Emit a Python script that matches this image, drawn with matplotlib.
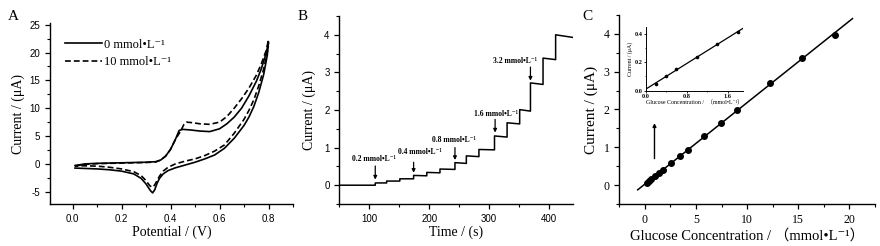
import numpy as np
import matplotlib.pyplot as plt
from matplotlib.ticker import MultipleLocator

plt.rcParams["axes.unicode_minus"] = False

# -------------------------------
# Data
# -------------------------------
# A: cyclic voltammograms (forward and reverse branches)
solid_fwd_x = [0.01, 0.05, 0.10, 0.20, 0.30, 0.34, 0.36, 0.38, 0.40, 0.42, 0.435, 0.45,
               0.48, 0.52, 0.56, 0.60, 0.63, 0.66, 0.69, 0.72, 0.75, 0.77, 0.79, 0.80]
solid_fwd_y = [-0.3, 0.0, 0.1, 0.2, 0.3, 0.4, 0.7, 1.4, 2.6, 4.4, 6.0, 6.2,
               6.1, 5.9, 5.8, 6.3, 7.2, 8.4, 10.0, 12.2, 14.8, 17.0, 19.8, 21.8]
solid_rev_x = [0.80, 0.795, 0.78, 0.76, 0.74, 0.72, 0.70, 0.66, 0.62, 0.58, 0.54, 0.50,
               0.46, 0.42, 0.39, 0.37, 0.355, 0.345, 0.335, 0.327, 0.318, 0.30, 0.28,
               0.25, 0.20, 0.15, 0.10, 0.01]
solid_rev_y = [21.8, 19.5, 16.0, 12.8, 10.3, 8.4, 6.9, 4.6, 2.8, 1.6, 0.9, 0.3,
               -0.2, -0.7, -1.2, -1.8, -2.6, -3.5, -4.7, -5.2, -4.8, -3.6, -2.6,
               -1.8, -1.3, -1.05, -0.9, -0.75]
dash_fwd_x = [0.01, 0.05, 0.10, 0.20, 0.30, 0.34, 0.36, 0.38, 0.40, 0.42, 0.44, 0.455,
              0.465, 0.49, 0.52, 0.56, 0.60, 0.63, 0.66, 0.69, 0.72, 0.75, 0.77, 0.79, 0.80]
dash_fwd_y = [-0.4, -0.1, 0.05, 0.15, 0.25, 0.35, 0.7, 1.4, 2.6, 4.4, 5.8, 7.1,
              7.5, 7.4, 7.2, 7.1, 7.5, 8.5, 10.0, 11.7, 13.6, 15.9, 17.9, 20.3, 22.3]
dash_rev_x = [0.80, 0.795, 0.78, 0.76, 0.74, 0.72, 0.70, 0.66, 0.62, 0.58, 0.54, 0.50,
              0.46, 0.42, 0.39, 0.37, 0.355, 0.345, 0.335, 0.325, 0.315, 0.30, 0.28,
              0.25, 0.20, 0.15, 0.10, 0.01]
dash_rev_y = [22.3, 20.0, 17.0, 14.0, 11.5, 9.6, 8.0, 5.5, 3.4, 2.3, 1.5, 0.9,
              0.5, 0.0, -0.6, -1.3, -2.2, -3.0, -3.8, -4.2, -3.9, -3.0, -2.1,
              -1.4, -0.9, -0.6, -0.4, -0.3]
legend_labels = ["0 mmol•L⁻¹", "10 mmol•L⁻¹"]

# B: amperometric response
t_start, t_end = 50, 440
step_t = [110, 129, 151, 174, 196, 218, 243, 262, 283, 309, 330, 351, 369, 390, 411]
level_on = [0.06, 0.11, 0.17, 0.26, 0.34, 0.43, 0.60, 0.78, 0.95, 1.31, 1.66, 2.01, 2.72, 3.38, 4.00]
level_off = [0.06, 0.11, 0.17, 0.25, 0.33, 0.42, 0.58, 0.76, 0.94, 1.28, 1.63, 1.97, 2.68, 3.34, 3.93]
arrow_t = [110, 174, 243, 310, 369]
arrow_top = [0.51, 0.61, 1.00, 1.75, 3.14]
arrow_bot = [0.15, 0.33, 0.67, 1.40, 2.78]
add_labels = ["0.2 mmol•L⁻¹", "0.4 mmol•L⁻¹", "0.8 mmol•L⁻¹", "1.6 mmol•L⁻¹", "3.2 mmol•L⁻¹"]
label_t = [108, 184, 242, 311, 343]
label_y = [0.69, 0.88, 1.20, 1.89, 3.31]

# C: calibration
conc = [0.2, 0.4, 0.6, 1.0, 1.4, 1.8, 2.6, 3.4, 4.2, 5.8, 7.4, 9.0, 12.2, 15.4, 18.6]
current = [0.05, 0.10, 0.15, 0.24, 0.33, 0.41, 0.58, 0.76, 0.93, 1.29, 1.65, 1.98, 2.69, 3.37, 3.98]
fit_range = [-0.7, 20.3]
inset_conc = conc[:6]
inset_current = current[:6]
inset_range = [0.0, 1.9]

SERIF = ["Liberation Serif", "DejaVu Serif", "Noto Sans CJK SC"]
SANS = "Liberation Sans"


def style_axes(ax, tickfont, ticksize):
    ax.spines["top"].set_visible(False)
    ax.spines["right"].set_visible(False)
    for s in ("left", "bottom"):
        ax.spines[s].set_linewidth(1.0)
    ax.tick_params(which="major", direction="out", length=3.5, width=0.9, labelsize=ticksize)
    ax.tick_params(which="minor", direction="out", length=2, width=0.8)
    for lab in ax.get_xticklabels() + ax.get_yticklabels():
        lab.set_family(tickfont)


fig = plt.figure(figsize=(8.8, 2.46), dpi=100)

# -------------------------------
# Panel A
# -------------------------------
axA = fig.add_axes([50 / 880, 42 / 246, 243 / 880, 181 / 246])
axA.plot(solid_fwd_x + solid_rev_x, solid_fwd_y + solid_rev_y, color="black", lw=1.2,
         label=legend_labels[0])
axA.plot(dash_fwd_x + dash_rev_x, dash_fwd_y + dash_rev_y, color="black", lw=1.2,
         ls=(0, (3.5, 1.8)), label=legend_labels[1])
axA.set_xlim(-0.092, 0.9)
axA.set_ylim(-7.2, 25.3)
axA.xaxis.set_major_locator(MultipleLocator(0.2))
axA.xaxis.set_minor_locator(MultipleLocator(0.1))
axA.yaxis.set_major_locator(MultipleLocator(5))
axA.yaxis.set_minor_locator(MultipleLocator(2.5))
axA.set_xticks([0.0, 0.2, 0.4, 0.6, 0.8])
axA.set_xticklabels(["0.0", "0.2", "0.4", "0.6", "0.8"])
style_axes(axA, SANS, 7)
axA.set_xlabel("Potential / (V)", family=SERIF, fontsize=10, labelpad=1)
axA.set_ylabel("Current / (μA)", family=SERIF, fontsize=10, labelpad=3)
axA.legend(loc="upper left", bbox_to_anchor=(0.04, 0.94), frameon=False, handlelength=3.0,
           handletextpad=0.15, labelspacing=0.45, borderaxespad=0,
           prop={"family": SERIF, "size": 9})

# -------------------------------
# Panel B
# -------------------------------
tb = [t_start]
ib = [0.0]
for i, ts in enumerate(step_t):
    tb.append(ts)
    ib.append(level_off[i - 1] if i > 0 else 0.0)
    tb.append(ts)
    ib.append(level_on[i])
    if i + 1 < len(step_t):
        tb.append(step_t[i + 1])
        ib.append(level_off[i])
tb.append(t_end)
ib.append(level_off[-1])

axB = fig.add_axes([339.3 / 880, 42 / 246, 233.7 / 880, 188 / 246])
axB.plot(tb, ib, color="black", lw=1.1)
for ta, yt, yb in zip(arrow_t, arrow_top, arrow_bot):
    axB.annotate("", xy=(ta, yb), xytext=(ta, yt),
                 arrowprops=dict(arrowstyle="-|>", color="black", lw=0.9,
                                 mutation_scale=5, shrinkA=0, shrinkB=0))
for txt, tx, ty in zip(add_labels, label_t, label_y):
    axB.text(tx, ty, txt, ha="center", va="center", family=SERIF, fontsize=5.5,
             fontweight="bold")
axB.set_xlim(50, 440)
axB.set_ylim(-0.5, 4.5)
axB.xaxis.set_major_locator(MultipleLocator(100))
axB.xaxis.set_minor_locator(MultipleLocator(50))
axB.yaxis.set_major_locator(MultipleLocator(1))
axB.yaxis.set_minor_locator(MultipleLocator(0.5))
style_axes(axB, SANS, 7)
axB.set_xlabel("Time / (s)", family=SERIF, fontsize=10, labelpad=1)
axB.set_ylabel("Current / (μA)", family=SERIF, fontsize=10, labelpad=6)

# -------------------------------
# Panel C
# -------------------------------
slope, icpt = np.polyfit(conc, current, 1)
axC = fig.add_axes([619.3 / 880, 42 / 246, 255.7 / 880, 189 / 246])
fx = np.array(fit_range)
axC.plot(fx, slope * fx + icpt, color="black", lw=1.1)
axC.plot(conc, current, "o", color="black", ms=4)
axC.annotate("", xy=(0.94, 1.64), xytext=(0.94, 0.70),
             arrowprops=dict(arrowstyle="-|>", color="black", lw=1.0,
                             mutation_scale=5, shrinkA=0, shrinkB=0))
axC.set_xlim(-2.5, 22.5)
axC.set_ylim(-0.5, 4.5)
axC.xaxis.set_major_locator(MultipleLocator(5))
axC.xaxis.set_minor_locator(MultipleLocator(2.5))
axC.yaxis.set_major_locator(MultipleLocator(1))
axC.yaxis.set_minor_locator(MultipleLocator(0.5))
style_axes(axC, SERIF, 8.5)
axC.set_xlabel("Glucose Concentration / （mmol•L⁻¹）", family=SERIF, fontsize=10.5, labelpad=2)
axC.set_ylabel("Current / (μA)", family=SERIF, fontsize=11, labelpad=4)

# inset
axI = fig.add_axes([645.7 / 880, 155.3 / 246, 97.3 / 880, 64 / 246])
ix = np.array(inset_range)
islope, iicpt = np.polyfit(inset_conc, inset_current, 1)
axI.plot(ix, islope * ix + iicpt, color="black", lw=0.9)
axI.plot(inset_conc, inset_current, "o", color="black", ms=1.6)
axI.set_xlim(0, 1.9)
axI.set_ylim(0, 0.45)
axI.set_xticks([0.0, 0.8, 1.6])
axI.set_xticklabels(["0.0", "0.8", "1.6"])
axI.set_yticks([0.0, 0.2, 0.4])
axI.set_yticklabels(["0.0", "0.2", "0.4"])
axI.xaxis.set_minor_locator(MultipleLocator(0.4))
axI.yaxis.set_minor_locator(MultipleLocator(0.1))
style_axes(axI, SERIF, 4.5)
axI.tick_params(which="major", length=1.5, width=0.6, pad=1)
axI.tick_params(which="minor", length=1, width=0.5)
for s in ("left", "bottom"):
    axI.spines[s].set_linewidth(0.7)
for lab in axI.get_xticklabels() + axI.get_yticklabels():
    lab.set_fontweight("bold")
axI.set_xlabel("Glucose Concentration /  （mmol•L⁻¹）", family=SERIF, fontsize=4.2, labelpad=0.5)
axI.set_ylabel("Current / (μA)", family=SERIF, fontsize=4.2, labelpad=1)

# panel letters
for letter, xpx in zip(["A", "B", "C"], [13, 303, 587]):
    fig.text(xpx / 880, 1 - 17 / 246, letter, family=SERIF, fontsize=11, ha="center", va="center")

plt.savefig("out.png", dpi=100)
plt.close()
